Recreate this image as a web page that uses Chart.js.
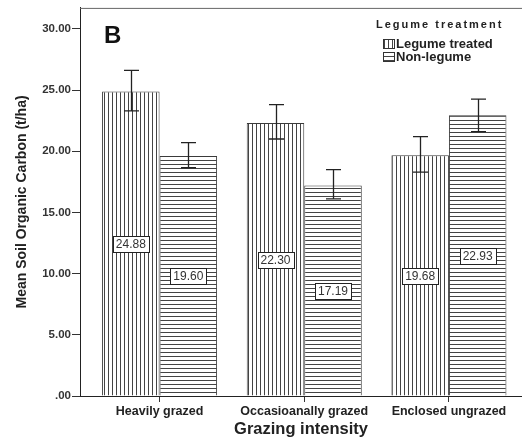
<!DOCTYPE html>
<html>
<head>
<meta charset="utf-8">
<script src="https://cdn.jsdelivr.net/npm/chart.js@4.4.0/dist/chart.umd.min.js"></script>
<style>
  html, body { margin: 0; padding: 0; background: #fff; overflow: hidden; }
  #wrap { position: relative; width: 522px; height: 441px; }
</style>
</head>
<body>
<div id="wrap"><canvas id="chart" width="522" height="441"></canvas></div>
<script>
// 数据
const categories = ["Heavily grazed", "Occasioanally grazed", "Enclosed ungrazed"];
const seriesLabels = ["Legume treated", "Non-legume"];
const legumeMeans = [24.88, 22.30, 19.68];
const nonLegumeMeans = [19.60, 17.19, 22.93];
const legumeErrLow = [23.3, 21.0, 18.3];
const legumeErrHigh = [26.6, 23.8, 21.2];
const nonLegumeErrLow = [18.65, 16.1, 21.6];
const nonLegumeErrHigh = [20.7, 18.5, 24.25];
const yTicks = [0, 5, 10, 15, 20, 25, 30];

const FONT = "'Liberation Sans', Arial, sans-serif";
const canvas = document.getElementById("chart");
const ctx = canvas.getContext("2d");

// 条纹填充
function makePattern(vertical) {
  const c = document.createElement("canvas");
  c.width = 4;
  c.height = 4;
  const g = c.getContext("2d");
  g.fillStyle = "#fff";
  g.fillRect(0, 0, 4, 4);
  g.fillStyle = "#444";
  if (vertical) g.fillRect(0, 0, 1, 4);
  else g.fillRect(0, 0, 4, 1);
  return ctx.createPattern(c, "repeat");
}

const patterns = [makePattern(true), makePattern(false)];
const means = [legumeMeans, nonLegumeMeans];
const errLow = [legumeErrLow, nonLegumeErrLow];
const errHigh = [legumeErrHigh, nonLegumeErrHigh];

// 误差线、数值标签、图例
const overlayPlugin = {
  id: "overlay",
  afterDatasetsDraw(chart) {
    const { ctx, chartArea, scales: { y } } = chart;
    ctx.save();

    // 顶部边框
    ctx.strokeStyle = "#666";
    ctx.lineWidth = 1;
    ctx.beginPath();
    ctx.moveTo(chartArea.left, chartArea.top + 0.5);
    ctx.lineTo(chartArea.right, chartArea.top + 0.5);
    ctx.stroke();

    chart.data.datasets.forEach((ds, d) => {
      const meta = chart.getDatasetMeta(d);
      meta.data.forEach((bar, i) => {
        const x = Math.round(bar.x) + 0.5;
        const yHi = y.getPixelForValue(errHigh[d][i]);
        const yLo = y.getPixelForValue(errLow[d][i]);
        ctx.strokeStyle = "#222";
        ctx.lineWidth = 1.3;
        ctx.beginPath();
        ctx.moveTo(x, yHi);
        ctx.lineTo(x, yLo);
        ctx.moveTo(x - 7.5, yHi);
        ctx.lineTo(x + 7.5, yHi);
        ctx.moveTo(x - 7.5, yLo);
        ctx.lineTo(x + 7.5, yLo);
        ctx.stroke();

        // 数值标签
        const v = means[d][i];
        const ly = Math.round(y.getPixelForValue(v / 2));
        ctx.font = "12px " + FONT;
        const text = v.toFixed(2);
        const w = Math.round(ctx.measureText(text).width) + 6;
        const h = 16;
        const bx = Math.round(bar.x - w / 2) + 0.5;
        const by = ly - h / 2 + 0.5;
        ctx.fillStyle = "#fff";
        ctx.fillRect(bx, by, w, h);
        ctx.strokeStyle = "#222";
        ctx.lineWidth = 1;
        ctx.strokeRect(bx, by, w, h);
        ctx.fillStyle = "#333";
        ctx.textAlign = "center";
        ctx.textBaseline = "middle";
        ctx.fillText(text, bar.x, ly + 1);
      });
    });

    // 面板字母
    ctx.fillStyle = "#111";
    ctx.font = "bold 24px " + FONT;
    ctx.textAlign = "left";
    ctx.textBaseline = "middle";
    ctx.fillText("B", 104, 36);

    // 图例
    ctx.font = "bold 11px " + FONT;
    ctx.letterSpacing = "2px";
    ctx.fillStyle = "#222";
    ctx.fillText("Legume treatment", 376, 25);
    ctx.letterSpacing = "0px";
    ctx.font = "bold 13px " + FONT;
    chart.data.datasets.forEach((ds, d) => {
      const iy = 44 + d * 13;
      ctx.fillStyle = ds.backgroundColor;
      ctx.fillRect(383, iy - 5, 12, 10);
      ctx.strokeStyle = "#333";
      ctx.lineWidth = 1;
      ctx.strokeRect(383.5, iy - 4.5, 11, 9);
      ctx.fillStyle = "#222";
      ctx.fillText(ds.label, 396, iy + 0.5);
    });

    ctx.restore();
  },
};

new Chart(ctx, {
  type: "bar",
  data: {
    datasets: seriesLabels.map((label, d) => ({
      label: label,
      data: categories.map((c, i) => ({ x: i, y: means[d][i] })),
      backgroundColor: patterns[d],
      borderColor: "#3a3a3a",
      borderWidth: 1,
      barPercentage: 1,
      categoryPercentage: 0.795,
    })),
  },
  options: {
    responsive: false,
    animation: false,
    layout: { padding: { top: 7, right: 0, bottom: 0, left: 0 } },
    plugins: {
      legend: { display: false },
      tooltip: { enabled: false },
    },
    scales: {
      x: {
        type: "linear",
        min: -0.55,
        max: 2.505,
        offset: false,
        afterFit: (s) => { s.height = 45; },
        afterBuildTicks: (s) => {
          s.ticks = categories.map((c, i) => ({ value: i }));
        },
        ticks: {
          padding: 2,
          color: "#222",
          font: { family: FONT, size: 12.5, weight: "bold" },
          callback: (v) => categories[v],
          maxRotation: 0,
          autoSkip: false,
        },
        grid: {
          offset: false,
          drawOnChartArea: false,
          tickLength: 6,
          tickColor: "#333",
        },
        border: { color: "#222", width: 1 },
        title: {
          display: true,
          text: "Grazing intensity",
          color: "#222",
          font: { family: FONT, size: 16.5, weight: "bold", lineHeight: 1 },
          padding: { top: 0, bottom: 3 },
        },
      },
      y: {
        min: 0,
        max: 31.71,
        afterFit: (s) => { s.width = 80; },
        afterBuildTicks: (s) => {
          s.ticks = yTicks.map((v) => ({ value: v }));
        },
        ticks: {
          padding: 1,
          color: "#333",
          font: { family: FONT, size: 11.5, weight: "bold" },
          callback: (v) => (v === 0 ? ".00" : v.toFixed(2)),
        },
        grid: {
          drawOnChartArea: false,
          tickLength: 8,
          tickColor: "#333",
        },
        border: { color: "#222", width: 1 },
        title: {
          display: true,
          text: "Mean Soil Organic Carbon (t/ha)",
          color: "#222",
          font: { family: FONT, size: 14, weight: "bold", lineHeight: 1 },
          padding: { top: 15, bottom: 0 },
        },
      },
    },
  },
  plugins: [overlayPlugin],
});
</script>
</body>
</html>
